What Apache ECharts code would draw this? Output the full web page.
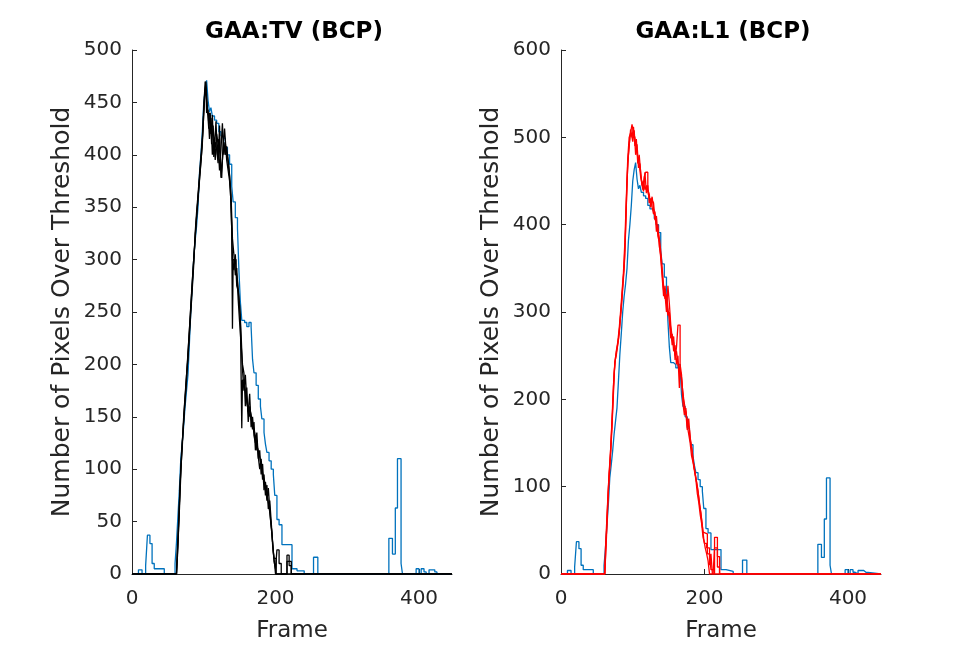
<!DOCTYPE html>
<html>
<head>
<meta charset="utf-8">
<script src="https://cdn.jsdelivr.net/npm/echarts@6/dist/echarts.min.js"></script>
<style>
  html, body { margin: 0; padding: 0; background: #fff; }
  #chart { width: 974px; height: 648px; }
</style>
</head>
<body>
<div id="chart"></div>
<script>
// panel titles and axis ticks
const titles = ['GAA:TV (BCP)', 'GAA:L1 (BCP)']
const yMax = [500, 600]
const yStep = [50, 100]
const xMax = 446

// blue trace (same in both panels), [frame, pixels]
const blue = [[0,0],[9,4],[14,0],[19,8],[21.5,37],[25,29],[28,10],[31,5],[36,5],[45,0],[60,10],[62,30],[64,55],[66,80],[68,110],[70,125],[72,141],[74,160],[76,175],[78,190],[80,220],[82,251],[84,275],[86,300],[88,318],[90,332],[92,350],[94,382],[96,400],[98,422],[100,450],[102,463],[104,471],[106,452],[108,441],[110,445],[112,437],[115,433],[118,430],[121,422],[124,418],[127,416],[130,407],[133,400],[136,391],[139,370],[141,355],[144,340],[147,330],[149,290],[151,260],[153,242],[157,240],[160,236],[163,240],[166,236],[168,205],[170,192],[173,180],[176,167],[179,160],[181,148],[184,135],[186,124],[188,116],[191,108],[194,100],[197,95],[199,75],[202,52],[205,47],[209,28],[216,28],[223,5],[230,3],[240,0],[253,16],[259,0],[358,34],[363,19],[367,63],[370,110],[375,10],[377,0],[396,5],[400,0],[403,5],[407,2],[410,0],[414,4],[422,2],[425,0],[446,0]]

// black traces, left panel
const blackA = [[0,0],[62,0],[64,30],[66,60],[68,95],[70,125],[72,145],[74,165],[76,185],[78,210],[80,232],[82,255],[84,278],[86,300],[88,320],[90,340],[92,358],[94,375],[96,392],[98,410],[100,440],[102,462],[103,470],[105,445],[107,425],[109,440],[111,410],[113,428],[115,405],[117,432],[119,400],[121,415],[123,395],[125,378],[126,395],[127,410],[129,425],[131,405],[133,400],[135,390],[137,370],[139,330],[140,234],[141,300],[143,300],[145,290],[147,280],[149,265],[151,245],[153,139],[154,185],[155,185],[157,180],[159,170],[161,160],[163,150],[165,155],[167,148],[169,140],[171,135],[173,128],[174,118],[175,120],[177,115],[179,108],[181,100],[183,92],[185,85],[187,80],[189,72],[191,65],[193,52],[195,40],[197,20],[199,8],[200,0],[446,0]]
const blackB = [[0,0],[62,0],[63,20],[65,50],[67,85],[69,115],[71,135],[73,158],[75,178],[77,200],[79,222],[81,245],[83,268],[85,290],[87,310],[89,332],[91,350],[93,368],[95,385],[97,402],[99,425],[101,455],[103,465],[104,440],[106,443],[108,415],[110,435],[112,400],[114,415],[116,395],[118,420],[120,410],[122,385],[124,405],[126,430],[128,400],[130,412],[132,395],[134,385],[136,375],[138,355],[140,300],[142,290],[144,305],[146,275],[148,270],[150,255],[152,230],[154,195],[156,175],[158,190],[160,165],[162,155],[164,172],[166,140],[168,150],[170,132],[172,125],[174,135],[176,110],[178,118],[180,95],[182,105],[184,80],[186,88],[188,70],[190,82],[192,62],[194,45],[196,30],[198,12],[200,5],[202,23],[205,10],[208,0],[216,18],[219,8],[222,0],[446,0]]
const blackC = [[0,0],[62,0],[64,25],[66,65],[68,100],[70,120],[72,150],[74,170],[76,190],[78,205],[80,228],[82,250],[84,272],[86,295],[88,325],[90,345],[92,362],[94,380],[96,398],[98,415],[100,445],[102,470],[104,452],[106,438],[108,440],[110,420],[112,438],[114,398],[116,412],[118,405],[120,392],[122,428],[124,378],[126,395],[128,412],[130,400],[132,408],[134,392],[136,380],[138,362],[140,320],[142,305],[144,285],[146,292],[148,262],[150,240],[152,220],[154,200],[156,192],[158,160],[160,178],[162,145],[164,160],[166,150],[168,138],[170,145],[172,118],[174,128],[176,112],[178,100],[180,110],[182,90],[184,95],[186,75],[188,85],[190,62],[192,70],[194,50],[196,28],[198,15],[201,0],[210,0],[216,12],[222,0],[446,0]]

// red traces, right panel
const redA = [[0,0],[61,0],[63,40],[65,80],[67,110],[69,135],[71,167],[73,205],[75,243],[77,250],[79,262],[81,275],[83,296],[85,315],[87,338],[89,365],[91,420],[93,470],[95,490],[97,509],[99,500],[101,512],[103,490],[105,498],[107,470],[109,480],[111,460],[113,445],[115,450],[117,440],[119,445],[121,438],[123,430],[125,425],[127,432],[129,418],[131,410],[133,400],[135,395],[137,385],[139,370],[141,350],[143,330],[145,320],[147,300],[149,330],[151,310],[153,285],[155,270],[157,265],[159,250],[161,255],[163,240],[165,235],[167,230],[169,215],[171,200],[173,190],[175,180],[177,172],[179,165],[181,150],[183,140],[185,125],[187,115],[189,105],[191,95],[193,80],[195,70],[197,55],[199,40],[201,30],[203,23],[205,15],[207,0],[446,0]]
const redB = [[0,0],[61,0],[62,30],[64,65],[66,100],[68,125],[70,155],[72,190],[74,230],[76,248],[78,258],[80,268],[82,285],[84,305],[86,330],[88,352],[90,395],[92,450],[94,480],[96,500],[98,505],[100,495],[102,508],[104,480],[106,492],[108,465],[110,470],[112,450],[114,440],[116,455],[118,460],[121,440],[123,435],[125,420],[127,428],[129,425],[131,405],[133,410],[135,387],[137,380],[139,362],[141,340],[143,318],[145,330],[147,310],[149,296],[151,300],[153,278],[155,262],[157,272],[159,245],[161,260],[163,285],[166,232],[168,225],[170,205],[172,190],[174,185],[176,165],[178,178],[180,155],[182,145],[184,130],[186,120],[188,110],[190,100],[192,88],[194,75],[196,62],[198,48],[200,46],[204,23],[207,10],[209,23],[211,0],[214,42],[218,20],[221,0],[446,0]]
const redC = [[0,0],[61,0],[63,35],[65,75],[67,115],[69,140],[71,175],[73,215],[75,240],[77,255],[79,265],[81,280],[83,300],[85,322],[87,345],[89,380],[91,430],[93,475],[95,500],[97,505],[99,515],[101,505],[103,500],[105,485],[107,478],[109,470],[111,455],[113,448],[115,438],[117,460],[119,436],[121,445],[123,425],[125,430],[127,420],[129,412],[131,415],[133,392],[135,400],[137,375],[139,365],[141,345],[143,325],[145,315],[147,320],[149,305],[151,290],[153,270],[155,275],[157,255],[159,262],[161,240],[163,250],[165,213],[166,240],[168,228],[170,195],[172,182],[174,190],[176,170],[178,160],[180,150],[182,135],[184,128],[186,118],[188,108],[190,92],[192,82],[194,68],[196,58],[198,42],[200,35],[203,30],[207,23],[209,5],[212,0],[214,30],[218,8],[221,0],[446,0]]

const font = 'DejaVu Sans'
const ink = '#262626'
const gridLeft = [132, 561]

function stairs(name, data, color, axis) {
  return {
    name: name,
    type: 'line',
    step: 'end',
    xAxisIndex: axis,
    yAxisIndex: axis,
    data: data,
    symbol: 'none',
    animation: false,
    lineStyle: { color: color, width: 1.3 },
  }
}

const chart = echarts.init(document.getElementById('chart'), null, { renderer: 'canvas' })

const option = {
  backgroundColor: '#fff',
  title: titles.map((t, i) => ({
    text: t,
    left: gridLeft[i] + 157,
    top: 16,
    textAlign: 'center',
    textStyle: { fontFamily: font, fontSize: 23, fontWeight: 'bold', color: '#000' },
  })),
  grid: gridLeft.map((l) => ({ left: l, width: 320, top: 50, height: 527 })),
  xAxis: [0, 1].map((i) => ({
    type: 'value',
    gridIndex: i,
    min: 0,
    max: xMax,
    interval: 200,
    name: 'Frame',
    nameLocation: 'middle',
    nameGap: 46,
    nameTextStyle: { fontFamily: font, fontSize: 23, color: ink },
    axisLine: { lineStyle: { color: ink, width: 1 } },
    axisTick: { inside: true, length: 5, lineStyle: { color: ink } },
    axisLabel: { fontFamily: font, fontSize: 20, color: ink, margin: 15, showMaxLabel: false },
    splitLine: { show: false },
  })),
  yAxis: [0, 1].map((i) => ({
    type: 'value',
    gridIndex: i,
    min: 0,
    max: yMax[i],
    interval: yStep[i],
    name: 'Number of Pixels Over Threshold',
    nameLocation: 'middle',
    nameGap: 57,
    nameTextStyle: { fontFamily: font, fontSize: 25, color: ink },
    axisLine: { show: true, lineStyle: { color: ink, width: 1 } },
    axisTick: { show: true, inside: true, length: 5, lineStyle: { color: ink } },
    axisLabel: { fontFamily: font, fontSize: 20, color: ink, margin: 10 },
    splitLine: { show: false },
  })),
  series: [
    stairs('blue', blue, '#0072BD', 0),
    stairs('blackA', blackA, '#000000', 0),
    stairs('blackB', blackB, '#000000', 0),
    stairs('blackC', blackC, '#000000', 0),
    stairs('blue', blue, '#0072BD', 1),
    stairs('redA', redA, '#FF0000', 1),
    stairs('redB', redB, '#FF0000', 1),
    stairs('redC', redC, '#FF0000', 1),
  ],
}

chart.setOption(option)
</script>
</body>
</html>
